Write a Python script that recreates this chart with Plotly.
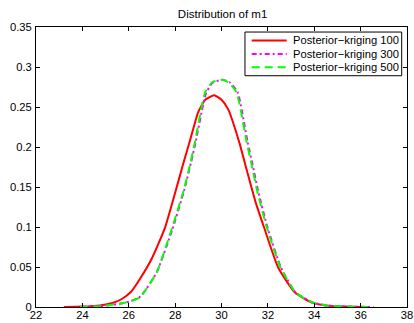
import plotly.graph_objects as go

# Series names
names = ["Posterior\u2212kriging 100", "Posterior\u2212kriging 300", "Posterior\u2212kriging 500"]

# Posterior-kriging 100 (red)
x_k100 = [23.2, 24.0, 24.76, 25.3, 25.7, 26.1, 26.48, 27.0, 27.56, 28.04, 28.34, 28.66, 29.0, 29.3,
          29.68, 30.0, 30.29, 30.77, 31.1, 31.45, 31.83, 32.45, 33.17, 33.9, 34.5, 35.3, 36.3]
y_k100 = [0.0, 0.0005, 0.002, 0.005, 0.010, 0.019, 0.035, 0.061, 0.099, 0.147, 0.178, 0.210, 0.244, 0.259,
          0.2646, 0.259, 0.247, 0.2055, 0.170, 0.133, 0.100, 0.049, 0.018, 0.0055, 0.002, 0.0005, 0.0]

# Posterior-kriging 300 (magenta)
x_k300 = [23.9, 24.8, 25.2, 25.6, 26.05, 26.5, 27.2, 27.88, 28.4, 28.68, 28.88, 29.32, 29.6, 30.02,
          30.35, 30.7, 31.13, 31.34, 31.58, 31.98, 32.57, 33.2, 33.9, 34.5, 35.5, 36.5]
y_k300 = [0.0, 0.001, 0.0025, 0.004, 0.007, 0.013, 0.043, 0.097, 0.147, 0.180, 0.2055, 0.266, 0.280, 0.284,
          0.281, 0.268, 0.2055, 0.178, 0.145, 0.100, 0.049, 0.018, 0.006, 0.002, 0.0005, 0.0]

# Posterior-kriging 500 (green)
x_k500 = [23.9, 24.8, 25.2, 25.6, 26.05, 26.48, 27.2, 27.85, 28.38, 28.66, 28.85, 29.29, 29.6, 29.98,
          30.3, 30.65, 31.09, 31.3, 31.54, 31.95, 32.55, 33.2, 33.9, 34.5, 35.5, 36.57]
y_k500 = [0.0, 0.001, 0.0025, 0.004, 0.007, 0.012, 0.043, 0.097, 0.147, 0.180, 0.2055, 0.268, 0.281, 0.284,
          0.281, 0.268, 0.2055, 0.178, 0.145, 0.100, 0.049, 0.018, 0.006, 0.002, 0.0005, 0.0]

x_ticks = [22, 24, 26, 28, 30, 32, 34, 36, 38]
y_ticks = [0, 0.05, 0.1, 0.15, 0.2, 0.25, 0.3, 0.35]
y_tick_labels = ["0", "0.05", "0.1", "0.15", "0.2", "0.25", "0.3", "0.35"]

colors = ["#ff0000", "#ff00ff", "#00ff00"]
dashes = ["solid", "5px,3px,2px,3px", "8px,5px"]
widths = [2, 2, 2]
FONT = "Liberation Sans, Arial, Helvetica"

fig = go.Figure()
for xs, ys, nm, c, d, w in zip([x_k100, x_k300, x_k500], [y_k100, y_k300, y_k500], names, colors, dashes, widths):
    fig.add_trace(go.Scatter(x=xs, y=ys, mode="lines", name=nm, showlegend=False,
                             line=dict(color=c, width=w, dash=d, shape="spline", smoothing=0.5)))

# Legend (drawn as a box with samples and text, MATLAB style)
lg_x0, lg_x1, lg_y0, lg_y1 = 0.5633, 0.9857, 0.826, 0.982
sample_x0, sample_x1, text_x = 0.5814, 0.6757, 0.6865
row_y = [0.952, 0.904, 0.856]
fig.add_shape(type="rect", xref="paper", yref="paper", x0=lg_x0, x1=lg_x1, y0=lg_y0, y1=lg_y1,
              line=dict(color="black", width=1), fillcolor="white", layer="above")
for nm, c, d, w, ry in zip(names, colors, dashes, widths, row_y):
    fig.add_shape(type="line", xref="paper", yref="paper", x0=sample_x0, x1=sample_x1, y0=ry, y1=ry,
                  line=dict(color=c, width=w, dash=d), layer="above")
    fig.add_annotation(xref="paper", yref="paper", x=text_x, y=ry, text=nm, showarrow=False,
                       xanchor="left", yanchor="middle",
                       font=dict(family=FONT, size=11.2, color="black"))

axis_common = dict(showline=True, linecolor="black", linewidth=1, mirror="allticks",
                   ticks="inside", ticklen=4, tickcolor="black", showgrid=False, zeroline=False,
                   automargin=False,
                   tickfont=dict(family=FONT, size=11.2, color="black"))

fig.update_layout(
    width=414, height=323,
    margin=dict(l=36, r=7, t=27, b=16, autoexpand=False),
    paper_bgcolor="white", plot_bgcolor="white",
    title=dict(text="Distribution of m1", xref="paper", x=0.503, xanchor="center",
               y=0.957, yanchor="middle", automargin=False,
               font=dict(family=FONT, size=11.5, color="black")),
    xaxis=dict(range=[22, 38], tickvals=x_ticks, ticktext=[str(v) for v in x_ticks],
               ticklabelstandoff=-2, **axis_common),
    yaxis=dict(range=[0, 0.35], tickvals=y_ticks, ticktext=y_tick_labels,
               ticklabelstandoff=1, **axis_common),
    showlegend=False,
)

fig.write_html("out.html")
